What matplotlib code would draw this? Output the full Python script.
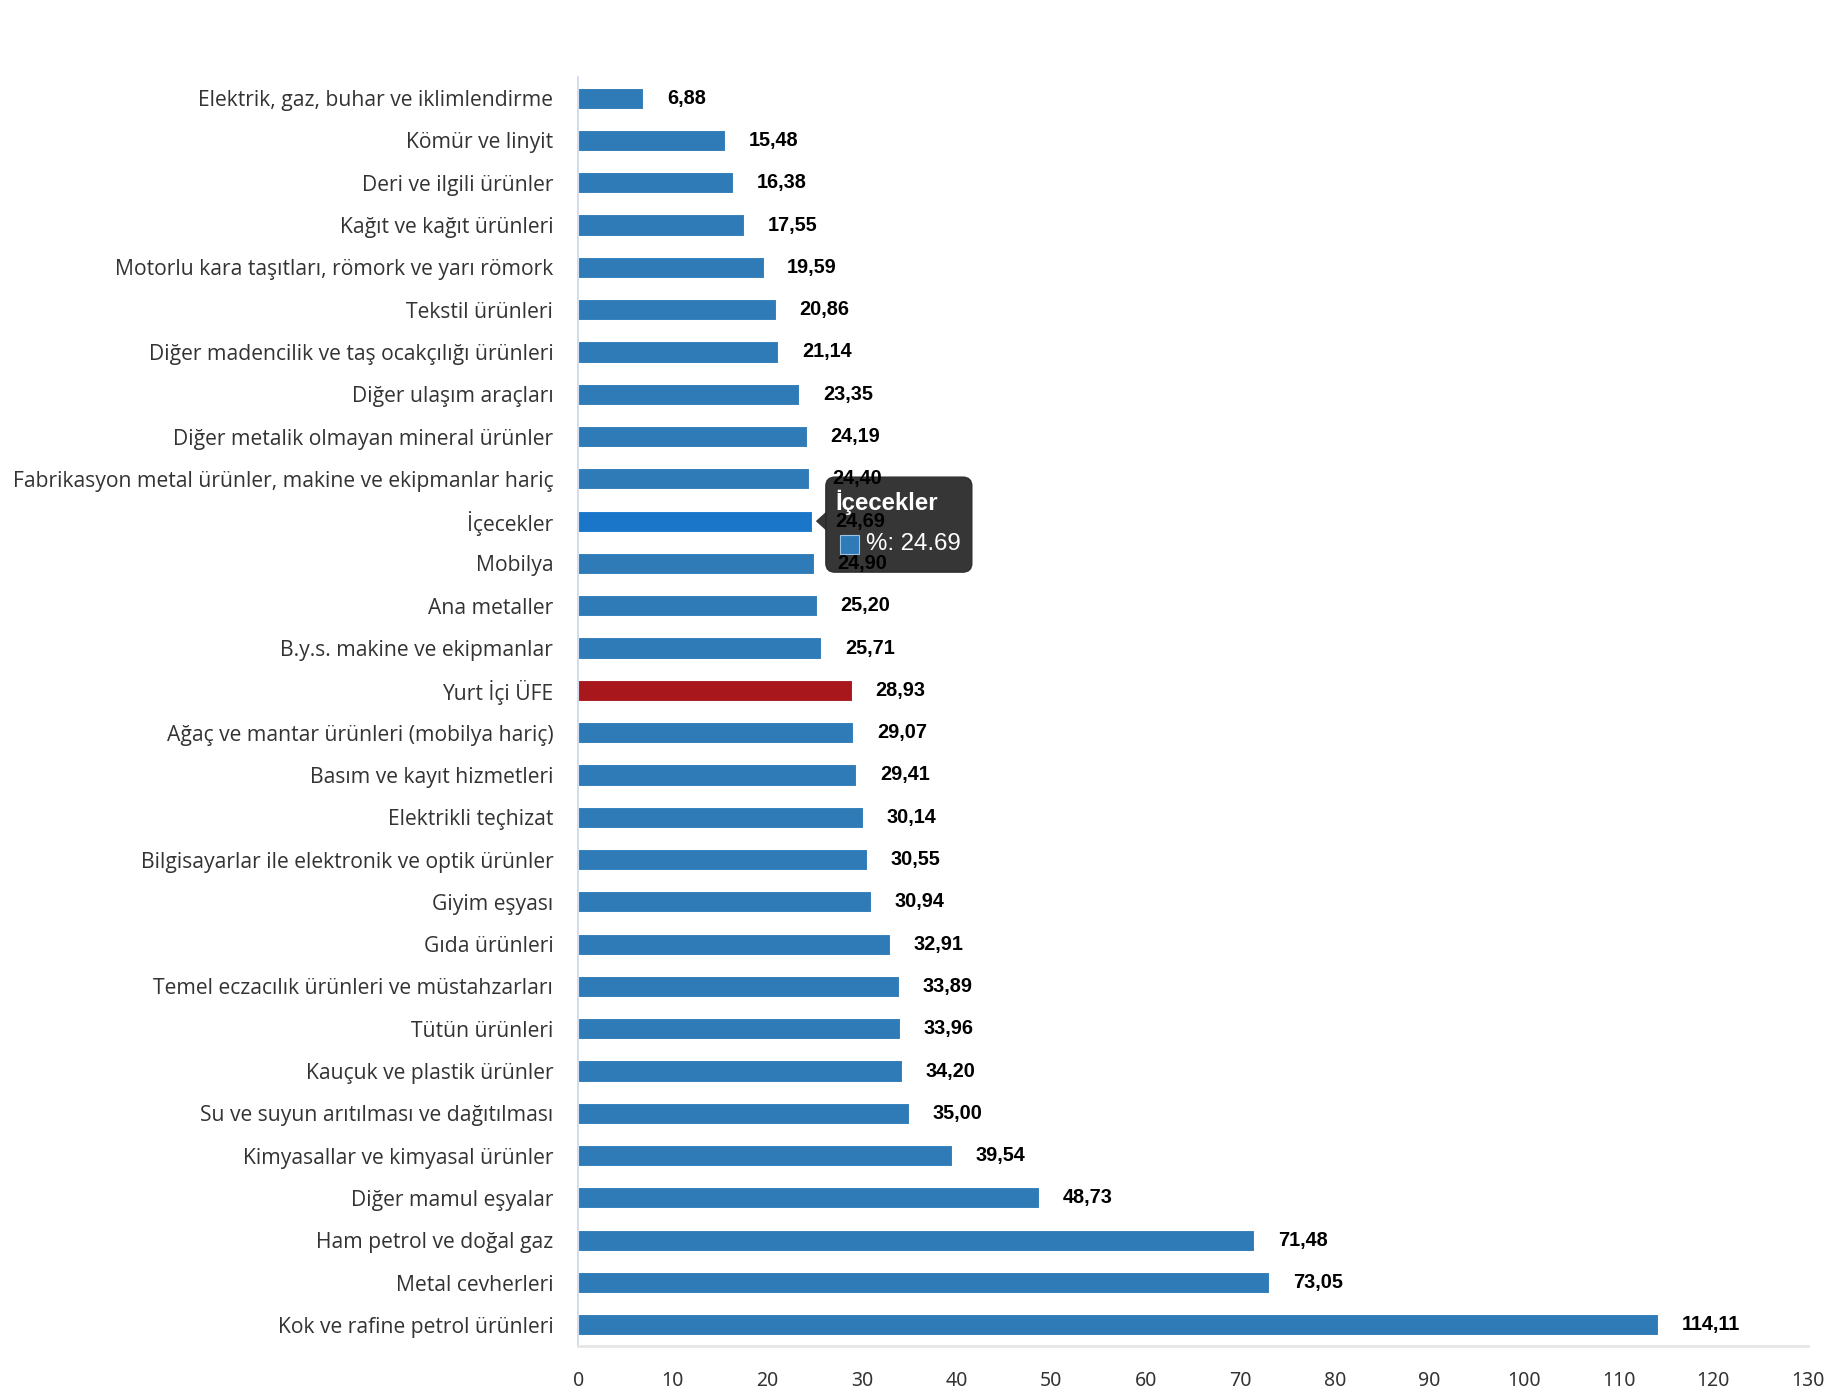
import matplotlib
matplotlib.use("Agg")
import matplotlib.pyplot as plt
from matplotlib.patches import FancyBboxPatch, Polygon, Rectangle
from matplotlib.transforms import ScaledTranslation

categories = [
    "Elektrik, gaz, buhar ve iklimlendirme",
    "Kömür ve linyit",
    "Deri ve ilgili ürünler",
    "Kağıt ve kağıt ürünleri",
    "Motorlu kara taşıtları, römork ve yarı römork",
    "Tekstil ürünleri",
    "Diğer madencilik ve taş ocakçılığı ürünleri",
    "Diğer ulaşım araçları",
    "Diğer metalik olmayan mineral ürünler",
    "Fabrikasyon metal ürünler, makine ve ekipmanlar hariç",
    "İçecekler",
    "Mobilya",
    "Ana metaller",
    "B.y.s. makine ve ekipmanlar",
    "Yurt İçi ÜFE",
    "Ağaç ve mantar ürünleri (mobilya hariç)",
    "Basım ve kayıt hizmetleri",
    "Elektrikli teçhizat",
    "Bilgisayarlar ile elektronik ve optik ürünler",
    "Giyim eşyası",
    "Gıda ürünleri",
    "Temel eczacılık ürünleri ve müstahzarları",
    "Tütün ürünleri",
    "Kauçuk ve plastik ürünler",
    "Su ve suyun arıtılması ve dağıtılması",
    "Kimyasallar ve kimyasal ürünler",
    "Diğer mamul eşyalar",
    "Ham petrol ve doğal gaz",
    "Metal cevherleri",
    "Kok ve rafine petrol ürünleri",
]
values = [6.88, 15.48, 16.38, 17.55, 19.59, 20.86, 21.14, 23.35, 24.19, 24.40,
          24.69, 24.90, 25.20, 25.71, 28.93, 29.07, 29.41, 30.14, 30.55, 30.94,
          32.91, 33.89, 33.96, 34.20, 35.00, 39.54, 48.73, 71.48, 73.05, 114.11]
x_ticks = [0, 10, 20, 30, 40, 50, 60, 70, 80, 90, 100, 110, 120, 130]
highlight_total = "Yurt İçi ÜFE"
hover_category = "İçecekler"

BLUE = "#2f7bb8"
HOVER = "#1976c8"
RED = "#a8171c"

fig = plt.figure(figsize=(18.3, 14), dpi=100)
ax = fig.add_axes([0.316, 0.0386, 0.672, 0.9064])

colors = []
for c in categories:
    if c == highlight_total:
        colors.append(RED)
    elif c == hover_category:
        colors.append(HOVER)
    else:
        colors.append(BLUE)

ypos = list(range(len(categories)))
ax.barh(ypos, values, height=0.5, color=colors, edgecolor="white", linewidth=0.8, zorder=2)
ax.set_ylim(len(categories) - 0.5, -0.5)
ax.set_xlim(0, 130)
ax.set_yticks(ypos)
ax.set_yticklabels(categories, fontsize=15.2, color="#333333", family=["Open Sans", "DejaVu Sans"])
ax.set_xticks(x_ticks)
ax.set_xticklabels([str(t) for t in x_ticks], fontsize=14, color="#333333", family=["Noto Sans", "DejaVu Sans"])
ax.tick_params(axis="y", length=0, pad=18)
ax.tick_params(axis="x", length=0, pad=18)
for s in ["top", "right"]:
    ax.spines[s].set_visible(False)
ax.spines["left"].set_color("#ccd6eb")
ax.spines["left"].set_linewidth(1.2)
ax.spines["bottom"].set_color("#e6e6e6")
ax.spines["bottom"].set_linewidth(2)

# Tooltip (drawn below value labels, as in reference)
hi = categories.index(hover_category)
hv = values[hi]
tr = ScaledTranslation(hv, hi, ax.transData)
box = FancyBboxPatch((14, -51), 146, 95, boxstyle="round,pad=0,rounding_size=9",
                     facecolor="#2b2b2b", edgecolor="#2b2b2b", alpha=0.95,
                     transform=tr, zorder=4, clip_on=False)
ax.add_patch(box)
arrow = Polygon([(4, 0), (15, 10), (15, -10)], closed=True, facecolor="#2b2b2b",
                edgecolor="none", alpha=0.95, transform=tr, zorder=4, clip_on=False)
ax.add_patch(arrow)
sq = Rectangle((28, -33), 19, 19, facecolor=BLUE, edgecolor="#9fc3e3", linewidth=0.8,
               transform=tr, zorder=5, clip_on=False)
ax.add_patch(sq)
ax.text(24, 19, hover_category, transform=tr, color="white", fontsize=17.3, fontweight="bold",
        family=["Liberation Sans", "DejaVu Sans"], va="center", ha="left", zorder=5)
ax.text(54, -23, "%: " + f"{hv:.2f}", transform=tr, color="white", fontsize=17.3,
        family=["Liberation Sans", "DejaVu Sans"], va="center", ha="left", zorder=5)

# Value labels
for i, v in enumerate(values):
    ax.annotate(f"{v:.2f}".replace(".", ","), xy=(v, i), xytext=(17, 0),
                textcoords="offset points", va="center", ha="left",
                fontsize=14.3, fontweight="bold", color="black",
                family=["Liberation Sans", "DejaVu Sans"], zorder=6, annotation_clip=False)

fig.savefig("out.png", dpi=100, facecolor="white")
